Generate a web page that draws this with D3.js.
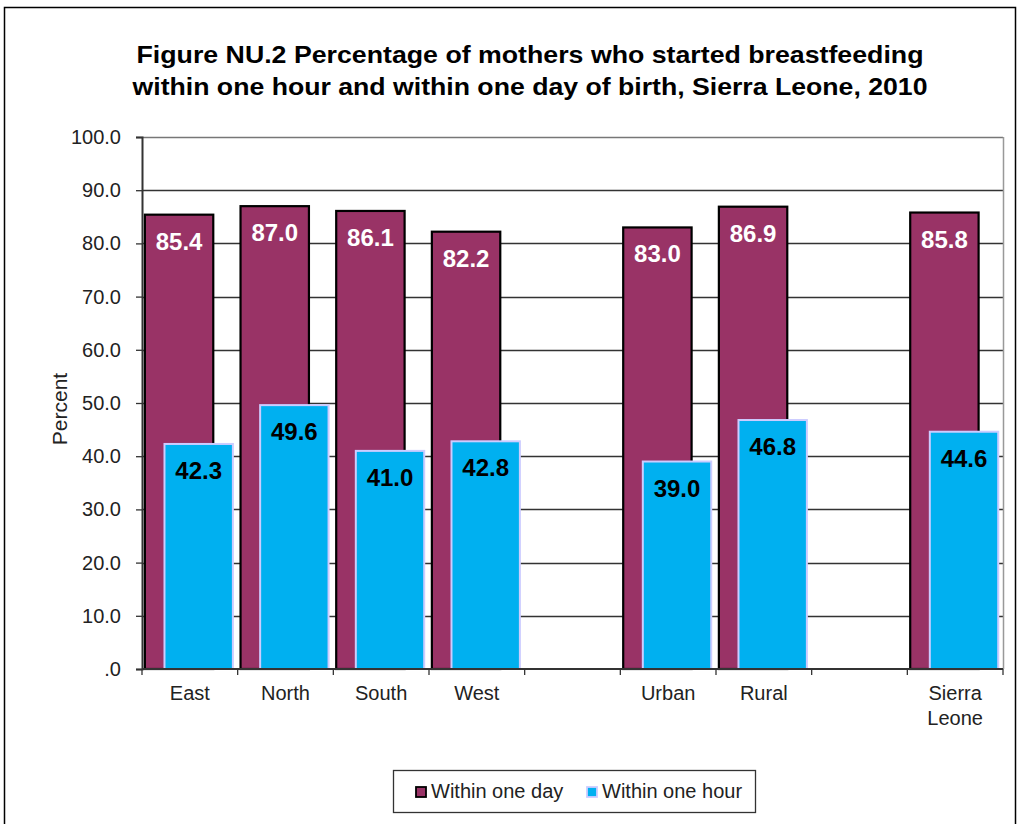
<!DOCTYPE html>
<html>
<head>
<meta charset="utf-8">
<script src="https://cdn.jsdelivr.net/npm/d3@7"></script>
<style>
  body { margin: 0; background: #fff; }
  svg { display: block; font-family: "Liberation Sans", Arial, sans-serif; }
</style>
</head>
<body>
<svg id="chart" width="1020" height="824"></svg>
<script>
const categories = ["East", "North", "South", "West", "", "Urban", "Rural", "", "Sierra Leone"];
const withinDay = [85.4, 87.0, 86.1, 82.2, null, 83.0, 86.9, null, 85.8];
const withinHour = [42.3, 49.6, 41.0, 42.8, null, 39.0, 46.8, null, 44.6];
const yTicks = [0, 10, 20, 30, 40, 50, 60, 70, 80, 90, 100];
const seriesNames = ["Within one day", "Within one hour"];
const colors = ["#993366", "#00b0f0"];

const width = 1020;
const height = 824;
const margin = { left: 142, right: 17, top: 137, bottom: 155 };

const svg = d3.select("#chart");

// outer frame
svg.append("rect")
    .attr("x", 4.5).attr("y", 7.5)
    .attr("width", 1011).attr("height", 830)
    .attr("fill", "none").attr("stroke", "#000").attr("stroke-width", 1.5);

// title
const title = svg.append("text")
    .attr("text-anchor", "middle")
    .attr("font-weight", "bold")
    .attr("font-size", 24)
    .attr("fill", "#000");
title.append("tspan").attr("x", 530).attr("y", 63)
    .attr("textLength", 787).attr("lengthAdjust", "spacingAndGlyphs")
    .text("Figure NU.2  Percentage of mothers who started breastfeeding");
title.append("tspan").attr("x", 530).attr("y", 95)
    .attr("textLength", 795).attr("lengthAdjust", "spacingAndGlyphs")
    .text("within  one hour and within  one day of birth, Sierra Leone, 2010");

const idx = d3.range(categories.length);

const x = d3.scaleBand()
    .domain(idx)
    .range([margin.left, width - margin.right])
    .padding(0);

const y = d3.scaleLinear()
    .domain([0, 100])
    .range([height - margin.bottom, margin.top]);

const g = svg.append("g");

// gridlines
g.append("g")
    .selectAll("line")
    .data(yTicks.filter(d => d > 0))
    .enter()
    .append("line")
    .attr("x1", margin.left).attr("x2", width - margin.right)
    .attr("y1", d => Math.round(y(d)) + 0.5).attr("y2", d => Math.round(y(d)) + 0.5)
    .attr("stroke", d => d === 100 ? "#777" : "#333")
    .attr("stroke-width", 1.3);

// right edge of plot
g.append("line")
    .attr("x1", width - margin.right + 0.5).attr("x2", width - margin.right + 0.5)
    .attr("y1", margin.top).attr("y2", y(0))
    .attr("stroke", "#999").attr("stroke-width", 1.5);

const bw = x.bandwidth();

// within one day bars
g.append("g")
    .selectAll("rect")
    .data(idx.filter(i => withinDay[i] != null))
    .enter()
    .append("rect")
    .attr("x", i => x(i) + bw * 0.03)
    .attr("y", i => y(withinDay[i]))
    .attr("width", bw * 0.715)
    .attr("height", i => y(0) - y(withinDay[i]))
    .attr("fill", colors[0])
    .attr("stroke", "#000")
    .attr("stroke-width", 2.2);

// within one hour bars
g.append("g")
    .selectAll("rect")
    .data(idx.filter(i => withinHour[i] != null))
    .enter()
    .append("rect")
    .attr("x", i => x(i) + bw * 0.235)
    .attr("y", i => y(withinHour[i]))
    .attr("width", bw * 0.715)
    .attr("height", i => y(0) - y(withinHour[i]))
    .attr("fill", colors[1])
    .attr("stroke", "#ccccff")
    .attr("stroke-width", 2);

// value labels
g.append("g")
    .selectAll("text")
    .data(idx.filter(i => withinDay[i] != null))
    .enter()
    .append("text")
    .attr("x", i => x(i) + bw * (0.03 + 0.715 / 2))
    .attr("y", i => y(withinDay[i]) + 35)
    .attr("text-anchor", "middle")
    .attr("font-weight", "bold")
    .attr("font-size", 24)
    .attr("fill", "#fff")
    .text(i => withinDay[i].toFixed(1));

g.append("g")
    .selectAll("text")
    .data(idx.filter(i => withinHour[i] != null))
    .enter()
    .append("text")
    .attr("x", i => x(i) + bw * (0.235 + 0.715 / 2))
    .attr("y", i => y(withinHour[i]) + 35)
    .attr("text-anchor", "middle")
    .attr("font-weight", "bold")
    .attr("font-size", 24)
    .attr("fill", "#000")
    .text(i => withinHour[i].toFixed(1));

// y axis
const yAxis = d3.axisLeft(y)
    .tickValues(yTicks)
    .tickSize(6)
    .tickPadding(15)
    .tickFormat(d => d === 0 ? ".0" : d.toFixed(1));
const yAxisGroup = g.append("g")
    .attr("transform", `translate(${margin.left},0)`)
    .call(yAxis);
yAxisGroup.select(".domain").attr("stroke", "#333").attr("stroke-width", 2);
yAxisGroup.selectAll(".tick line").attr("stroke", "#333").attr("stroke-width", 1.3);
yAxisGroup.selectAll(".tick text")
    .attr("font-size", 20).attr("fill", "#222")
    .attr("font-family", "Liberation Sans, Arial, sans-serif");

// x axis
const xAxisGroup = g.append("g")
    .attr("transform", `translate(0,${y(0)})`);
xAxisGroup.append("line")
    .attr("x1", margin.left).attr("x2", width - margin.right)
    .attr("stroke", "#333").attr("stroke-width", 2);
xAxisGroup.selectAll(".xtick")
    .data(idx.concat([categories.length]))
    .enter()
    .append("line")
    .attr("class", "xtick")
    .attr("x1", i => i < categories.length ? x(i) : width - margin.right)
    .attr("x2", i => i < categories.length ? x(i) : width - margin.right)
    .attr("y1", 0).attr("y2", 6)
    .attr("stroke", "#333").attr("stroke-width", 1.3);

xAxisGroup.selectAll(".xlabel")
    .data(idx.filter(i => categories[i] !== ""))
    .enter()
    .append("text")
    .attr("class", "xlabel")
    .attr("text-anchor", "middle")
    .attr("font-size", 20)
    .attr("fill", "#222")
    .each(function (i) {
        const words = categories[i] === "Sierra Leone" ? ["Sierra", "Leone"] : [categories[i]];
        d3.select(this).selectAll("tspan")
            .data(words)
            .enter()
            .append("tspan")
            .attr("x", x(i) + bw / 2)
            .attr("y", (d, k) => 31 + k * 25)
            .text(d => d);
    });

// y axis title
svg.append("text")
    .attr("transform", "translate(67,409) rotate(-90)")
    .attr("text-anchor", "middle")
    .attr("font-size", 21)
    .attr("fill", "#222")
    .text("Percent");

// legend
const legend = svg.append("g");
legend.append("rect")
    .attr("x", 393.5).attr("y", 770.5)
    .attr("width", 362).attr("height", 42)
    .attr("fill", "#fff").attr("stroke", "#333").attr("stroke-width", 1.3);

const legendX = [416, 587];
const strokes = ["#000", "#ccccff"];
seriesNames.forEach((name, k) => {
    legend.append("rect")
        .attr("x", legendX[k]).attr("y", 787)
        .attr("width", 10).attr("height", 10)
        .attr("fill", colors[k])
        .attr("stroke", strokes[k])
        .attr("stroke-width", 1.8);
    legend.append("text")
        .attr("x", legendX[k] + 15).attr("y", 798)
        .attr("font-size", 20)
        .attr("fill", "#222")
        .text(name);
});
</script>
</body>
</html>
